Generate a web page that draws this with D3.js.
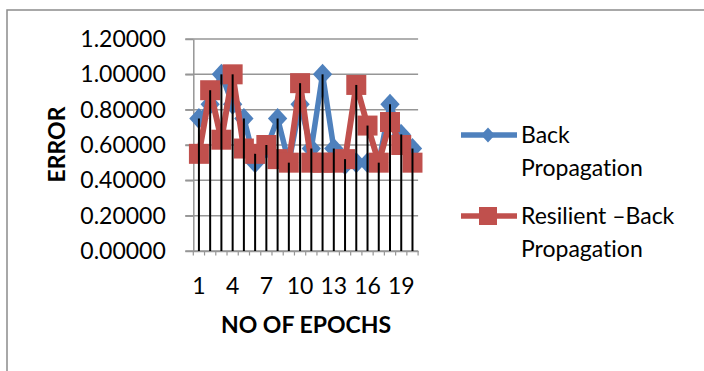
<!DOCTYPE html>
<html>
<head>
<meta charset="utf-8">
<script src="https://cdn.jsdelivr.net/npm/d3@7"></script>
<style>
  html, body { margin: 0; padding: 0; background: #fff; }
  svg { display: block; }
  text { font-family: Lato, "Open Sans", sans-serif; fill: #000; font-variant-ligatures: none; }
</style>
</head>
<body>
<svg id="chart" width="704" height="371"></svg>
<script>
const epochs = d3.range(1, 21);
const backProp = [0.75, 0.83, 1.00, 0.83, 0.75, 0.50, 0.58, 0.75, 0.50, 0.83,
                  0.58, 1.00, 0.58, 0.49, 0.50, 0.50, 0.50, 0.83, 0.66, 0.58];
const resilientProp = [0.55, 0.91, 0.63, 1.00, 0.58, 0.55, 0.60, 0.52, 0.50, 0.95,
                       0.50, 0.50, 0.50, 0.52, 0.94, 0.71, 0.50, 0.73, 0.60, 0.50];
const yTicks = [0, 0.2, 0.4, 0.6, 0.8, 1.0, 1.2];
const xTickLabels = [1, 4, 7, 10, 13, 16, 19];
const seriesNames = ["Back\nPropagation", "Resilient \u2013Back\nPropagation"];
const colors = ["#4F81BD", "#C0504D"];

const svg = d3.select("#chart");

// outer frame
svg.append("rect").attr("x", 7).attr("y", 10).attr("width", 720).attr("height", 400)
  .attr("fill", "#fff").attr("stroke", "#8c8c8c").attr("stroke-width", 1.5);

const x = d3.scaleBand().domain(epochs).range([193.3, 418.1]).paddingInner(0).paddingOuter(0);
const y = d3.scaleLinear().domain([0, 1.2]).range([251, 39]);
const cx = d => x(d) + x.bandwidth() / 2;

const g = svg.append("g");

// gridlines
g.selectAll("line.grid").data(yTicks).join("line").attr("class", "grid")
  .attr("x1", 185.3).attr("x2", 418.1)
  .attr("y1", d => y(d)).attr("y2", d => y(d))
  .attr("stroke", "#969696").attr("stroke-width", 1.5);

// y axis
const yAxis = d3.axisLeft(y).tickValues(yTicks).tickFormat(d3.format(".5f"))
  .tickSizeInner(8).tickSizeOuter(0).tickPadding(19.5);
const ya = g.append("g").attr("transform", "translate(193.3,0)").call(yAxis);
ya.select(".domain").attr("stroke", "#969696").attr("stroke-width", 1.5);
ya.selectAll(".tick line").attr("stroke", "#969696").attr("stroke-width", 1.5);
ya.selectAll("text").style("font-size", "23px").style("font-family", "Lato");

// x axis
const xAxis = d3.axisBottom(x).tickValues(xTickLabels).tickSizeInner(0).tickSizeOuter(0).tickPadding(27);
const xa = g.append("g").attr("transform", "translate(0,251)").call(xAxis);
xa.select(".domain").attr("stroke", "#969696").attr("stroke-width", 1.5);
xa.selectAll("text").style("font-size", "23px").style("font-family", "Lato");
// category boundary tick marks
g.selectAll("line.xt").data(d3.range(0, 21)).join("line").attr("class", "xt")
  .attr("x1", k => 193.3 + k * x.bandwidth()).attr("x2", k => 193.3 + k * x.bandwidth())
  .attr("y1", 251).attr("y2", 255.5)
  .attr("stroke", "#969696").attr("stroke-width", 1.2);

const line = d3.line().x((d, i) => cx(epochs[i])).y(d => y(d));
const diamond = (px, py, r) => `M${px},${py - r}L${px + r * 0.92},${py}L${px},${py + r}L${px - r * 0.92},${py}Z`;

// series 1
g.append("path").datum(backProp).attr("d", line).attr("fill", "none")
  .attr("stroke", colors[0]).attr("stroke-width", 5.5).attr("stroke-linejoin", "round");
g.selectAll("path.dm").data(backProp).join("path").attr("class", "dm")
  .attr("d", (d, i) => diamond(cx(epochs[i]), y(d), 10.5)).attr("fill", colors[0]);

// series 2
g.append("path").datum(resilientProp).attr("d", line).attr("fill", "none")
  .attr("stroke", colors[1]).attr("stroke-width", 6).attr("stroke-linejoin", "round");
g.selectAll("rect.sq").data(resilientProp).join("rect").attr("class", "sq")
  .attr("x", (d, i) => cx(epochs[i]) - 10).attr("y", d => y(d) - 10)
  .attr("width", 20).attr("height", 20).attr("fill", colors[1]);

// drop lines
g.selectAll("line.drop").data(epochs).join("line").attr("class", "drop")
  .attr("x1", d => cx(d)).attr("x2", d => cx(d))
  .attr("y1", (d, i) => y(Math.max(backProp[i], resilientProp[i]))).attr("y2", y(0))
  .attr("stroke", "#000").attr("stroke-width", 2);

// axis titles
svg.append("text").attr("x", 306).attr("y", 333).attr("text-anchor", "middle")
  .style("font-size", "23px").style("font-weight", "bold").text("NO OF EPOCHS");
svg.append("text").attr("transform", "translate(65,144.5) rotate(-90)").attr("text-anchor", "middle")
  .style("font-size", "23px").style("font-weight", "bold").text("ERROR");

// legend
const legY = [135, 216];
const leg = svg.append("g");
seriesNames.forEach((name, i) => {
  leg.append("line").attr("x1", 461).attr("x2", 517).attr("y1", legY[i]).attr("y2", legY[i])
    .attr("stroke", colors[i]).attr("stroke-width", 5.5);
  if (i === 0) {
    leg.append("path").attr("d", diamond(488, legY[i], 7.5)).attr("fill", colors[i]);
  } else {
    leg.append("rect").attr("x", 479).attr("y", legY[i] - 9).attr("width", 18).attr("height", 18).attr("fill", colors[i]);
  }
  const t = leg.append("text").attr("x", 521).attr("y", legY[i] + 8.3).style("font-size", "23px");
  name.split("\n").forEach((ln, j) => {
    t.append("tspan").attr("x", 521).attr("dy", j === 0 ? 0 : 32.5).text(ln);
  });
});
</script>
</body>
</html>
